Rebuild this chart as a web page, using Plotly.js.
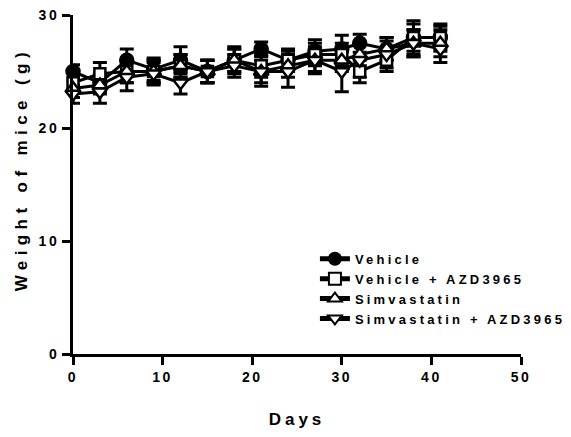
<!DOCTYPE html>
<html>
<head>
<meta charset="utf-8">
<script src="https://cdn.plot.ly/plotly-3.0.1.min.js"></script>
<style>
html,body{margin:0;padding:0;background:#fff;}
#chart{width:571px;height:437px;}
.xtick text,.ytick text{letter-spacing:2.5px;}
.legendtext{letter-spacing:3.2px;}
.g-xtitle text{letter-spacing:4px;}
.annotation-text{letter-spacing:5.4px;}
</style>
</head>
<body>
<div id="chart"></div>
<script>
var days = [0,3,6,9,12,15,18,21,24,27,30,32,35,38,41];
var seriesNames = ["Vehicle","Vehicle + AZD3965","Simvastatin","Simvastatin + AZD3965"];
var vehicle    = [25.0,24.0,26.0,25.2,26.0,25.0,26.0,27.0,26.0,26.8,27.0,27.5,27.0,28.0,28.0];
var vehicleErr = [0.6,0.8,1.0,1.0,1.2,1.0,1.2,0.6,0.8,1.0,1.2,0.8,1.0,1.5,1.2];
var vehAZD     = [24.0,24.8,25.0,25.0,25.5,25.0,26.0,25.5,26.0,26.5,26.5,25.0,26.0,28.0,28.0];
var vehAZDErr  = [0.6,1.0,1.0,1.0,1.0,1.0,1.0,1.0,1.0,1.0,1.0,1.0,1.0,1.2,1.0];
var simva      = [23.5,23.8,25.0,25.0,25.5,25.0,26.0,25.0,25.5,26.0,26.0,26.5,27.0,27.5,27.5];
var simvaErr   = [0.8,0.8,1.0,1.0,1.0,1.0,1.0,1.0,1.0,1.0,1.0,1.0,1.0,1.2,1.2];
var simAZD     = [23.0,23.2,24.5,24.8,24.0,25.0,25.5,25.0,25.0,26.0,25.0,26.0,26.5,27.5,27.0];
var simAZDErr  = [0.8,1.0,1.2,1.0,1.0,1.0,1.0,1.3,1.4,1.2,1.8,1.5,1.2,1.2,1.2];
var xTitle = "Days";
var yTitle = "Weight of mice (g)";

var yVals = [vehicle, vehAZD, simva, simAZD];
var yErrs = [vehicleErr, vehAZDErr, simvaErr, simAZDErr];
var symbols = ["circle","square","triangle-up","triangle-down"];
var fills = ["#000","#fff","#fff","#fff"];
var sizes = [13,11,13,13];

var traces = [];
seriesNames.forEach(function(name,i){
  traces.push({
    x: days, y: yVals[i], name: name+" SEM", type: "scatter", mode: "markers",
    marker: {size: 0.1, color: "rgba(0,0,0,0)"},
    error_y: {type:"data", array: yErrs[i], visible:true, color:"#000", thickness:3, width:7},
    showlegend:false, cliponaxis:false, hoverinfo:"skip"
  });
});
seriesNames.forEach(function(name,i){
  traces.push({
    x: days, y: yVals[i], name: name, type: "scatter", mode: "lines+markers",
    line: {color:"#000", width:3},
    marker: {symbol: symbols[i], size: sizes[i], color: fills[i], line:{color:"#000", width:2.5}},
    cliponaxis: false
  });
});

var fam = "Liberation Sans, Arial, sans-serif";

var layout = {
  width:571, height:437,
  margin:{l:73, r:50, t:15, b:83, autoexpand:false},
  paper_bgcolor:"#fff", plot_bgcolor:"#fff",
  showlegend:true,
  font: {family:fam, size:14, color:"#000", weight:"bold"},
  xaxis:{
    range:[0,50], tickvals:[0,10,20,30,40,50], ticks:"outside", ticklen:8, tickwidth:3,
    tickcolor:"#000", showline:true, linecolor:"#000", linewidth:3, showgrid:false, zeroline:false,
    tickfont:{family:fam, size:14, weight:"bold", color:"#000"},
    title:{text:xTitle, font:{family:fam, size:17, weight:"bold", color:"#000"}, standoff:30}
  },
  yaxis:{
    range:[0,30], tickvals:[0,10,20,30], ticks:"outside", ticklen:8, tickwidth:3,
    tickcolor:"#000", showline:true, linecolor:"#000", linewidth:3, showgrid:false, zeroline:false,
    tickfont:{family:fam, size:14, weight:"bold", color:"#000"}
  },
  annotations:[{
    text:yTitle, xref:"paper", yref:"paper", x:-0.116, y:0.545, xanchor:"center", yanchor:"middle",
    textangle:-90, showarrow:false, font:{family:fam, size:17, weight:"bold", color:"#000"}
  }],
  legend:{
    x:0.54, y:0.325, xanchor:"left", yanchor:"top", bgcolor:"rgba(0,0,0,0)",
    font:{family:fam, size:13, weight:"bold", color:"#000"},
    tracegroupgap:0, itemsizing:"constant"
  }
};

Plotly.newPlot("chart", traces, layout, {displayModeBar:false, staticPlot:true});
</script>
</body>
</html>
